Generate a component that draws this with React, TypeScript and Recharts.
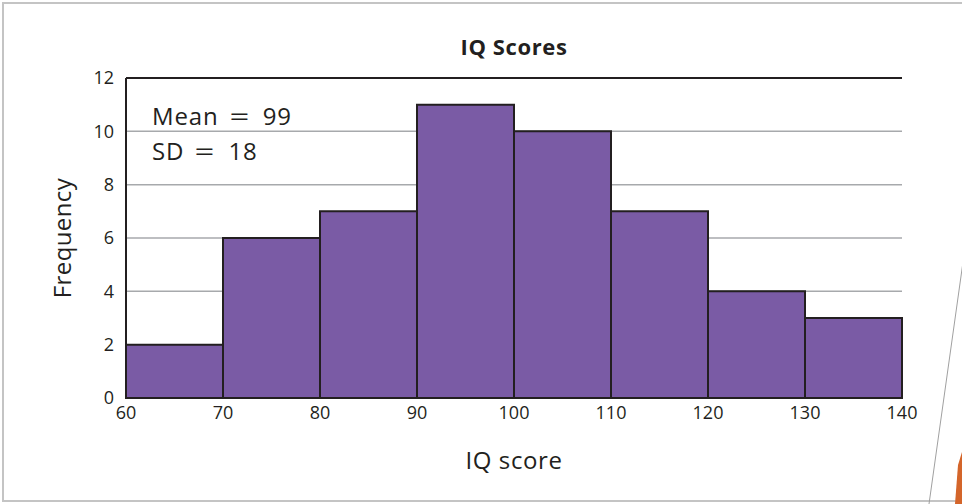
import React from "react";
import { BarChart, Bar, XAxis, YAxis, CartesianGrid, ReferenceLine } from "recharts";

const binStarts = ["60", "70", "80", "90", "100", "110", "120", "130"];
const frequencies = [2, 6, 7, 11, 10, 7, 4, 3];
const xTickLabels = ["60", "70", "80", "90", "100", "110", "120", "130", "140"];
const yTicks = [0, 2, 4, 6, 8, 10, 12];
const statLines = [
  { name: "Mean", value: "99" },
  { name: "SD", value: "18" },
];

const data = binStarts.map((b, i) => ({ bin: b, freq: frequencies[i] }));

const INK = "#231f20";
const FONT = "'Open Sans', 'Noto Sans', sans-serif";

const W = 962;
const H = 504;
const M = { top: 78, right: 60, bottom: 76, left: 86 };
const Y_AXIS_W = 40;
const BAND = (W - M.left - Y_AXIS_W - M.right) / binStarts.length;

function BinTick(props: any) {
  const { x, y, payload } = props;
  const idx = payload.index;
  const items = [{ px: x - BAND / 2, label: xTickLabels[idx] }];
  if (idx === binStarts.length - 1) items.push({ px: x + BAND / 2, label: xTickLabels[idx + 1] });
  return (
    <g>
      {items.map((it, i) => (
        <text key={i} x={it.px} y={y} dy="0.71em" textAnchor="middle" fill={INK} fontSize={18} fontFamily={FONT}>
          {it.label}
        </text>
      ))}
    </g>
  );
}

export default function App() {
  return (
    <div style={{ position: "absolute", left: 0, top: 0, width: W, height: H, background: "#fff", fontFamily: FONT, overflow: "hidden" }}>
      <div style={{ position: "absolute", left: 2, top: 2, width: 980, height: 500, border: "2px solid #c4c4c4", boxSizing: "border-box" }} />
      <svg style={{ position: "absolute", left: 0, top: 0 }} width={W} height={H}>
        <line x1={963} y1={262} x2={929} y2={504} stroke="#a0a0a0" strokeWidth={1} />
        <path d="M958 465 L962 452 L962 504 L955 504 Z" fill="#d4652a" />
      </svg>
      <div style={{ position: "absolute", left: 0, top: 0 }}>
        <BarChart width={W} height={H} data={data} barCategoryGap={0} margin={M}>
          <CartesianGrid vertical={false} stroke="#a7a9ac" strokeWidth={1.5} yAxisId="left" />
          <XAxis
            dataKey="bin"
            height={30}
            interval={0}
            tickLine={false}
            axisLine={{ stroke: INK, strokeWidth: 2 }}
            tick={<BinTick />}
            tickMargin={2}
          />
          <YAxis
            yAxisId="left"
            domain={[0, 12]}
            ticks={yTicks}
            width={Y_AXIS_W}
            tickLine={false}
            axisLine={{ stroke: INK, strokeWidth: 2 }}
            tick={{ fill: INK, fontSize: 18, fontFamily: FONT }}
            tickMargin={6}
            interval={0}
          />
          <YAxis
            yAxisId="right"
            orientation="right"
            domain={[0, 12]}
            width={0}
            tick={false}
            tickLine={false}
            axisLine={{ stroke: INK, strokeWidth: 2 }}
          />
          <ReferenceLine y={12} yAxisId="left" stroke={INK} strokeWidth={2} />
          <Bar yAxisId="left" dataKey="freq" fill="#7a5ba5" stroke={INK} strokeWidth={2} isAnimationActive={false} />
        </BarChart>
      </div>
      <div style={{ position: "absolute", left: 0, width: 1028, top: 31, textAlign: "center", fontWeight: 700, fontSize: 22, letterSpacing: 0.6, color: INK, lineHeight: "30px" }}>IQ Scores</div>
      <div style={{ position: "absolute", left: 0, width: 1028, top: 444, textAlign: "center", fontSize: 24, letterSpacing: 0.6, color: INK, lineHeight: "32px" }}>IQ score</div>
      <div style={{ position: "absolute", left: 62 - 100, top: 238 - 16, width: 200, textAlign: "center", fontSize: 24, letterSpacing: 0.4, color: INK, lineHeight: "32px", transform: "rotate(-90deg)" }}>Frequency</div>
      <div style={{ position: "absolute", left: 152, top: 98, fontSize: 24, letterSpacing: 0.9, color: INK, lineHeight: "35px", whiteSpace: "pre" }}>
        {statLines.map((s) => (
          <div key={s.name}>
            {s.name}
            <span style={{ display: "inline-block", width: 26, marginLeft: 8, marginRight: 10, textAlign: "center", transform: "scaleX(1.45)" }}>=</span>
            {s.value}
          </div>
        ))}
      </div>
    </div>
  );
}
